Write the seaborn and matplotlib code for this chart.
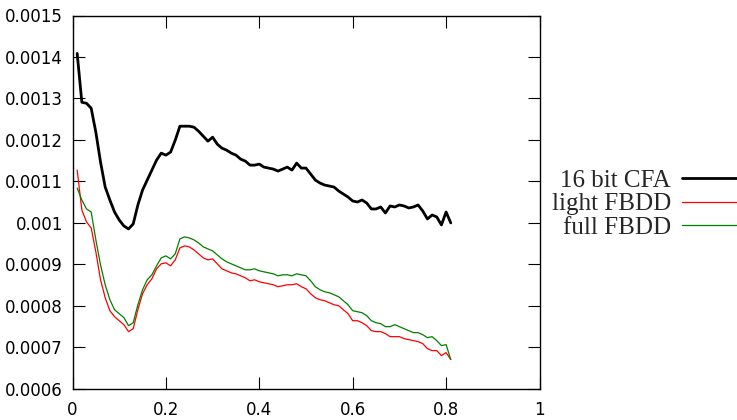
import matplotlib
matplotlib.use("Agg")
import matplotlib.pyplot as plt
import seaborn as sns
import numpy as np
import pandas as pd

# x positions of the samples
x_vals = [round(0.01 * i, 2) for i in range(1, 82)]

# values in units of 1e-4
cfa16 = [14.085, 12.906, 12.882, 12.762, 12.184, 11.463, 10.861, 10.548, 10.259, 10.067,
         9.922, 9.850, 9.971, 10.428, 10.789, 11.029, 11.270, 11.511, 11.679, 11.631,
         11.703, 11.992, 12.329, 12.329, 12.329, 12.305, 12.208, 12.088, 11.968, 12.064,
         11.896, 11.799, 11.751, 11.679, 11.631, 11.535, 11.487, 11.390, 11.390, 11.414,
         11.342, 11.318, 11.294, 11.246, 11.294, 11.342, 11.270, 11.438, 11.318, 11.318,
         11.174, 11.029, 10.957, 10.909, 10.885, 10.861, 10.765, 10.692, 10.620, 10.524,
         10.500, 10.548, 10.476, 10.332, 10.332, 10.380, 10.235, 10.404, 10.380, 10.428,
         10.404, 10.356, 10.380, 10.428, 10.283, 10.091, 10.187, 10.139, 9.946, 10.259,
         9.995]

light_fbdd = [11.270, 10.307, 10.019, 9.874, 9.297, 8.623, 8.190, 7.877, 7.733, 7.636,
              7.540, 7.372, 7.444, 7.901, 8.286, 8.503, 8.647, 8.888, 9.008, 9.032,
              8.960, 9.104, 9.393, 9.441, 9.417, 9.345, 9.249, 9.152, 9.104, 9.128,
              9.008, 8.888, 8.840, 8.791, 8.767, 8.719, 8.671, 8.599, 8.623, 8.575,
              8.551, 8.527, 8.503, 8.455, 8.479, 8.503, 8.503, 8.527, 8.455, 8.406,
              8.286, 8.190, 8.142, 8.118, 8.069, 8.021, 7.997, 7.901, 7.805, 7.636,
              7.636, 7.588, 7.516, 7.396, 7.372, 7.372, 7.324, 7.251, 7.251, 7.251,
              7.203, 7.179, 7.155, 7.131, 7.083, 6.963, 6.914, 6.914, 6.794, 6.866,
              6.698]

full_fbdd = [10.837, 10.548, 10.332, 10.259, 9.586, 8.984, 8.503, 8.142, 7.901, 7.805,
             7.709, 7.516, 7.588, 8.021, 8.382, 8.623, 8.743, 8.960, 9.152, 9.201,
             9.128, 9.249, 9.610, 9.658, 9.634, 9.586, 9.513, 9.417, 9.369, 9.321,
             9.225, 9.128, 9.056, 9.008, 8.960, 8.912, 8.864, 8.864, 8.888, 8.840,
             8.815, 8.791, 8.767, 8.719, 8.743, 8.743, 8.719, 8.767, 8.743, 8.719,
             8.599, 8.455, 8.382, 8.334, 8.310, 8.262, 8.214, 8.118, 8.021, 7.877,
             7.853, 7.829, 7.757, 7.636, 7.588, 7.564, 7.492, 7.492, 7.540, 7.492,
             7.444, 7.396, 7.348, 7.348, 7.299, 7.227, 7.251, 7.155, 7.035, 7.059,
             6.698]

series_names = ["16 bit CFA", "light FBDD", "full FBDD"]
series_colors = ["#000000", "#ff0000", "#008000"]
series_widths = [2.0, 0.9, 0.9]

x_ticks = [0, 0.2, 0.4, 0.6, 0.8, 1]
x_tick_labels = ["0", "0.2", "0.4", "0.6", "0.8", "1"]
y_ticks = [0.0006, 0.0007, 0.0008, 0.0009, 0.001, 0.0011, 0.0012, 0.0013, 0.0014, 0.0015]
y_tick_labels = ["0.0006", "0.0007", "0.0008", "0.0009", "0.001", "0.0011",
                 "0.0012", "0.0013", "0.0014", "0.0015"]

sns.set_theme(style="white")
plt.rcParams["font.family"] = ["DejaVu Sans"]

fig = plt.figure(figsize=(7.37, 4.20), dpi=100)
W, H = 737, 420
ax = fig.add_axes([72.5 / W, 1 - 388.5 / H, (539.5 - 72.5) / W, (388.5 - 15.5) / H])

for name, vals, col, lw in zip(series_names, [cfa16, light_fbdd, full_fbdd],
                                series_colors, series_widths):
    df = pd.DataFrame({"x": x_vals, "y": np.array(vals) * 1e-4})
    sns.lineplot(data=df, x="x", y="y", ax=ax, color=col, linewidth=lw, label=name,
                 estimator=None, sort=False)

ax.set_xlim(0, 1)
ax.set_ylim(0.0006, 0.0015)
ax.set_xticks(x_ticks)
ax.set_xticklabels(x_tick_labels)
ax.set_yticks(y_ticks)
ax.set_yticklabels(y_tick_labels)
ax.set_xlabel("")
ax.set_ylabel("")
ax.tick_params(direction="in", length=8.5, width=0.8, color="black",
               top=True, right=True, bottom=True, left=True, labelsize=12,
               labelcolor="black")
ax.tick_params(axis="x", pad=9)
ax.tick_params(axis="y", pad=7)
for s in ax.spines.values():
    s.set_visible(True)
    s.set_color("black")
    s.set_linewidth(1.0)

handles, labels = ax.get_legend_handles_labels()
ax.get_legend().remove()
leg = fig.legend(handles, labels, loc="center right",
                 bbox_to_anchor=(742 / W, 1 - 204 / H),
                 bbox_transform=fig.transFigure,
                 frameon=False, markerfirst=False, borderpad=0, borderaxespad=0,
                 handlelength=2.4, handletextpad=0.45, labelspacing=0.05,
                 prop={"family": "Liberation Serif", "size": 18})

fig.savefig("out.png", dpi=100)
